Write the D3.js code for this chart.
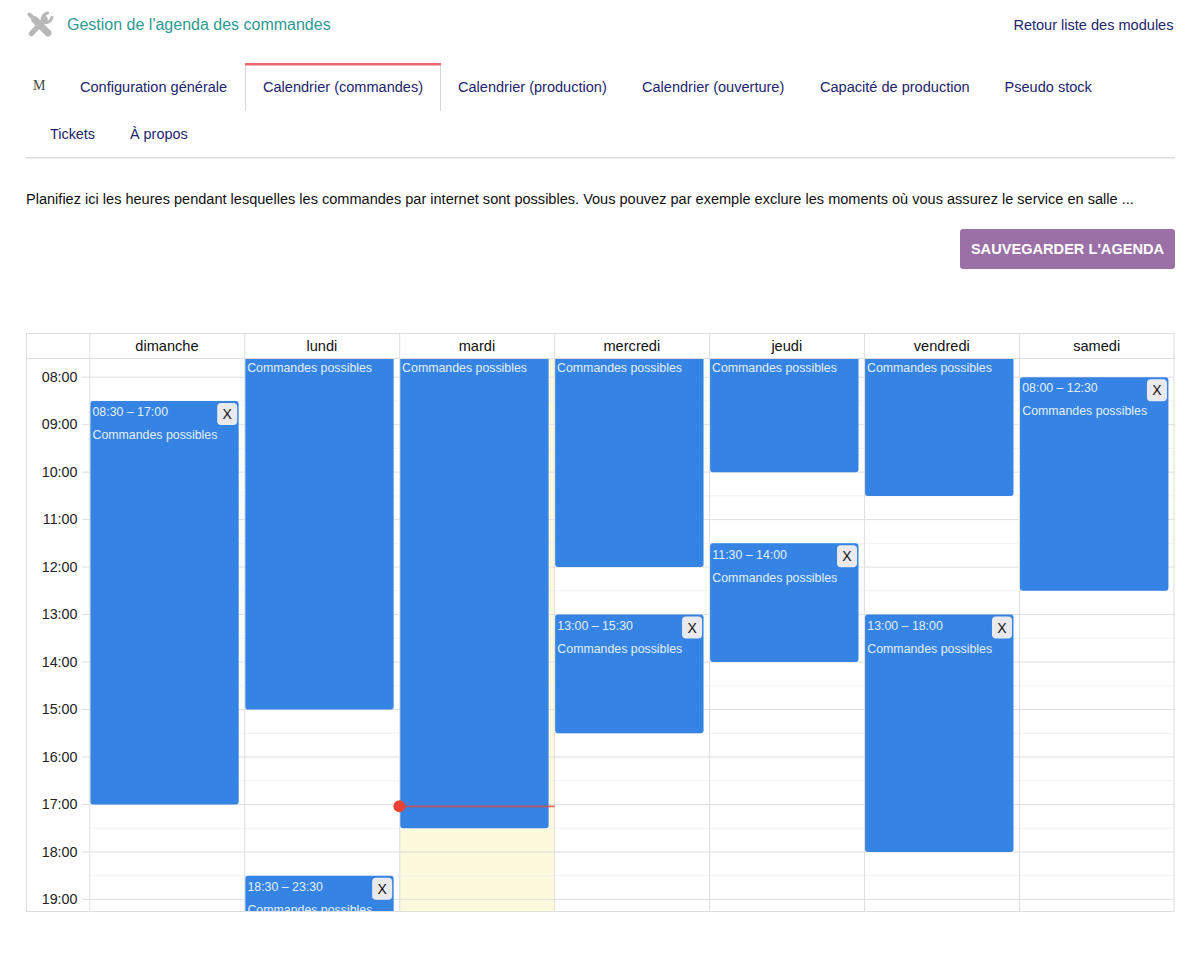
<!DOCTYPE html>
<html lang="fr">
<head>
<meta charset="utf-8">
<script src="https://cdn.jsdelivr.net/npm/d3@7"></script>
<style>
html,body{margin:0;padding:0;background:#fff;overflow:hidden}
svg{display:block;font-family:"Liberation Sans",Arial,sans-serif}
.tick line,.domain{display:none}
</style>
</head>
<body>
<div id="chart"></div>
<script>
const days = ["dimanche","lundi","mardi","mercredi","jeudi","vendredi","samedi"];
const hourTicks = [8,9,10,11,12,13,14,15,16,17,18,19];
const halfHourLines = [7.5,8.5,9.5,10.5,11.5,12.5,13.5,14.5,15.5,16.5,17.5,18.5];
const eventDays =   ["dimanche","lundi","lundi","mardi","mercredi","mercredi","jeudi","jeudi","vendredi","vendredi","samedi"];
const eventStarts = [8.5,0,18.5,0,0,13,0,11.5,0,13,8];
const eventEnds =   [17,15,23.5,17.5,12,15.5,10,14,10.5,18,12.5];
const eventLabel = "Commandes possibles";
const todayName = "mardi";
const nowHour = 17.04;
const tabsRow1 = ["Configuration générale","Calendrier (commandes)","Calendrier (production)","Calendrier (ouverture)","Capacité de production","Pseudo stock"];
const tabsRow1X = [80,263,458,642,820,1004.5];
const tabsRow2 = ["Tickets","À propos"];
const tabsRow2X = [50,130];

const svg = d3.select("#chart").append("svg").attr("width",1200).attr("height",978);
const navy = "#23246e";
const txt = (s,x,y,size,fill,extra={})=>{
  const t = svg.append("text").attr("x",x).attr("y",y).attr("font-size",size).attr("fill",fill).text(s);
  Object.entries(extra).forEach(([k,v])=>t.attr(k,v));
  return t;
};

// header icon: crossed wrench and screwdriver
const icon = svg.append("g").attr("fill","none").attr("stroke","#b8b8b8").attr("stroke-linecap","round");
icon.append("line").attr("x1",29.5).attr("y1",14.5).attr("x2",36).attr("y2",21).attr("stroke-width",4);
icon.append("line").attr("x1",35).attr("y1",20).attr("x2",48).attr("y2",33).attr("stroke-width",7);
icon.append("line").attr("x1",45).attr("y1",19).attr("x2",31.5).attr("y2",33.5).attr("stroke-width",5.5);
icon.append("path").attr("d","M42.5 20.5a6.5 6.5 0 0 1 5-7.5M44.5 22.5a6.5 6.5 0 0 0 7.5-5").attr("stroke-width",3.2);
txt("Gestion de l'agenda des commandes",67,30,16,"#2f9a93");
txt("Retour liste des modules",1173.5,30,14.55,navy,{"text-anchor":"end"});

// tabs
txt("M",33,90,14,"#444",{"font-family":"Liberation Serif, serif"});
svg.append("rect").attr("x",245).attr("y",65).attr("width",1).attr("height",46).attr("fill","#d8d8d8");
svg.append("rect").attr("x",440).attr("y",65).attr("width",1).attr("height",46).attr("fill","#d8d8d8");
svg.append("rect").attr("x",245).attr("y",63).attr("width",196).attr("height",2.5).attr("fill","#e8686f");
svg.selectAll(".tab1").data(tabsRow1).join("text").attr("class","tab1")
  .attr("x",(d,i)=>tabsRow1X[i]).attr("y",92.3).attr("font-size",14.55).attr("fill",navy).text(d=>d);
svg.selectAll(".tab2").data(tabsRow2).join("text").attr("class","tab2")
  .attr("x",(d,i)=>tabsRow2X[i]).attr("y",139).attr("font-size",14.4).attr("fill",navy).text(d=>d);
svg.append("rect").attr("x",26).attr("y",157).attr("width",1149).attr("height",1.5).attr("fill","#dddddd");

txt("Planifiez ici les heures pendant lesquelles les commandes par internet sont possibles. Vous pouvez par exemple exclure les moments où vous assurez le service en salle ...",26,204,14.55,"#111");
svg.append("rect").attr("x",960).attr("y",229).attr("width",215).attr("height",40).attr("rx",3).attr("fill","#9a70a6");
txt("SAUVEGARDER L'AGENDA",1067.5,254,14.6,"#fff",{"text-anchor":"middle","font-weight":"bold"});

// calendar geometry
const L=26,R=1174.5,T=333.5,H=358.5,B=911.5,AX=89.8;
const x = d3.scaleBand().domain(days).range([AX,R]);
const y = d3.scaleLinear().domain([8,19]).range([377.2,899.4]);

svg.append("clipPath").attr("id","grid").append("rect").attr("x",L).attr("y",H).attr("width",R-L).attr("height",B-H);
const grid = svg.append("g").attr("clip-path","url(#grid)");

grid.append("rect").attr("x",x(todayName)).attr("y",H).attr("width",x.bandwidth()).attr("height",B-H).attr("fill","#fdf9dc");
grid.selectAll(".half").data(halfHourLines).join("line").attr("class","half")
  .attr("x1",AX).attr("x2",R).attr("y1",d=>y(d)).attr("y2",d=>y(d)).attr("stroke","#f1f1f1");
grid.selectAll(".hour").data(hourTicks).join("line").attr("class","hour")
  .attr("x1",82).attr("x2",R).attr("y1",d=>y(d)).attr("y2",d=>y(d)).attr("stroke","#dedede");

// day headers & column rules
svg.selectAll(".vrule").data(days).join("line").attr("class","vrule")
  .attr("x1",d=>x(d)).attr("x2",d=>x(d)).attr("y1",T).attr("y2",B).attr("stroke","#dedede");
svg.append("rect").attr("x",L+.5).attr("y",T).attr("width",R-L-1).attr("height",B-T).attr("fill","none").attr("stroke","#dedede");
svg.append("line").attr("x1",L).attr("x2",R).attr("y1",H).attr("y2",H).attr("stroke","#dedede");
svg.selectAll(".dayhead").data(days).join("text").attr("class","dayhead")
  .attr("x",d=>x(d)+x.bandwidth()/2-.3).attr("y",351).attr("text-anchor","middle")
  .attr("font-size",14.6).attr("fill","#111").text(d=>d);

// hour axis
const fmt = h=>String(h).padStart(2,"0")+":00";
const axis = d3.axisLeft(y).tickValues(hourTicks).tickFormat(fmt).tickSize(0).tickPadding(0);
const axG = svg.append("g").attr("transform",`translate(77.5,-0.5)`).call(axis);
axG.selectAll("text").attr("font-size",14.3).attr("fill","#222").attr("font-family","Liberation Sans, Arial, sans-serif");

// events
const events = eventDays.map((d,i)=>({day:d,start:eventStarts[i],end:eventEnds[i]}));
const fmtT = h=>String(Math.floor(h)).padStart(2,"0")+":"+(h%1?"30":"00");
events.forEach((e,i)=>{
  const ex = x(e.day)+.4, ew = 148.5, ey = y(e.start), eh = y(e.end)-y(e.start);
  const g = grid.append("g");
  g.append("rect").attr("x",ex).attr("y",ey).attr("width",ew).attr("height",eh).attr("rx",3).attr("fill","#3584e4");
  const tc="#e4effb", fs=12.35;
  if(ey<H){
    g.append("text").attr("x",ex+2).attr("y",372).attr("font-size",fs).attr("fill",tc).text(eventLabel);
  } else {
    g.append("text").attr("x",ex+2.3).attr("y",ey+15.2).attr("font-size",fs).attr("fill",tc).text(fmtT(e.start)+" – "+fmtT(e.end));
    g.append("text").attr("x",ex+2.3).attr("y",ey+38.2).attr("font-size",fs).attr("fill",tc).text(eventLabel);
    g.append("rect").attr("x",ex+ew-21.5).attr("y",ey+2).attr("width",20).attr("height",22).attr("rx",4).attr("fill","#e9e9ee");
    g.append("text").attr("x",ex+ew-11.5).attr("y",ey+18).attr("text-anchor","middle").attr("font-size",14).attr("fill","#111").text("X");
  }
});

// now indicator
svg.append("line").attr("x1",x(todayName)).attr("x2",x(todayName)+x.bandwidth()).attr("y1",y(nowHour)).attr("y2",y(nowHour))
  .attr("stroke","#e0453a").attr("stroke-opacity",.8).attr("stroke-width",1.6);
svg.append("circle").attr("cx",x(todayName)-.3).attr("cy",y(nowHour)).attr("r",6).attr("fill","#ea4335");
</script>
</body>
</html>
